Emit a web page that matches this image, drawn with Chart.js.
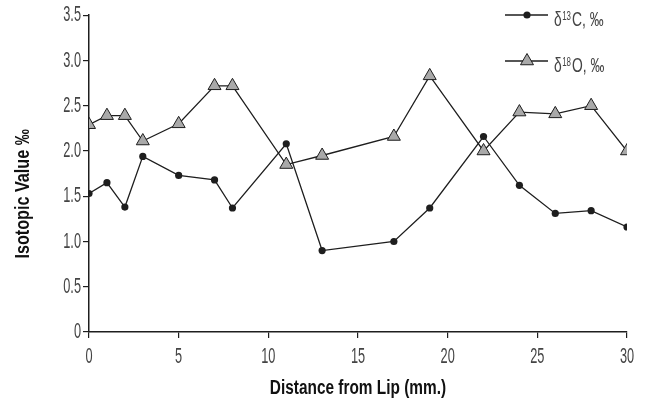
<!DOCTYPE html>
<html>
<head>
<meta charset="utf-8">
<script src="https://cdn.jsdelivr.net/npm/chart.js@4.4.1/dist/chart.umd.min.js"></script>
<style>
    html, body { margin: 0; padding: 0; background: #fff; }
    #wrap { width: 646px; height: 408px; }
</style>
</head>
<body>
<div id="wrap"><canvas id="myChart"></canvas></div>
<script>
// Values
const distance = [0, 1, 2, 3, 5, 7, 8, 11, 13, 17, 19, 22, 24, 26, 28, 30];
const carbon13 = [1.53, 1.65, 1.38, 1.94, 1.73, 1.68, 1.37, 2.08, 0.90, 1.00, 1.37, 2.16, 1.62, 1.31, 1.34, 1.16];
const oxygen18 = [2.29, 2.39, 2.39, 2.11, 2.30, 2.72, 2.72, 1.85, 1.95, 2.16, 2.83, 2.00, 2.43, 2.41, 2.50, 2.00];
const xTicks = [0, 5, 10, 15, 20, 25, 30];
const yTicks = [0, 0.5, 1.0, 1.5, 2.0, 2.5, 3.0, 3.5];

const FONT = "'Liberation Sans', Arial, sans-serif";
const TEXT = "#444";
const INK = "#1e1e1e";

// The figure uses a very narrow typeface; squeeze text horizontally
const NARROW = 0.58;
const NARROW_BOLD = 0.77;
const NARROW_LEGEND = 0.66;

function points(ys) {
    return distance.map((x, i) => ({ x: x, y: ys[i] }));
}

const canvas = document.getElementById("myChart");
const ctx = canvas.getContext("2d");
const plainFillText = ctx.fillText.bind(ctx);
function squeezedText(c, text, x, y, k) {
    c.save();
    c.translate(x, y);
    c.scale(k, 1);
    plainFillText(text, 0, 0);
    c.restore();
}
ctx.fillText = function (text, x, y) {
    squeezedText(this, text, x, y, /bold/.test(this.font) ? NARROW_BOLD : NARROW);
};

// Legend: line with marker, label with superscript mass number
const legendEntries = [
    { mass: "13", elem: "C", marker: "circle", y: 15 },
    { mass: "18", elem: "O", marker: "triangle", y: 61 }
];

const sideLegend = {
    id: "sideLegend",
    afterDraw(chart) {
        const c = chart.ctx;
        c.save();
        legendEntries.forEach(e => {
            c.strokeStyle = INK;
            c.lineWidth = 1.3;
            c.beginPath();
            c.moveTo(505, e.y);
            c.lineTo(548, e.y);
            c.stroke();

            c.beginPath();
            if (e.marker === "circle") {
                c.fillStyle = INK;
                c.arc(527, e.y, 3.6, 0, Math.PI * 2);
                c.fill();
            } else {
                const r = 7.5;
                c.fillStyle = "#a9a9a9";
                c.moveTo(527, e.y - r);
                c.lineTo(527 + r * 0.866, e.y + r / 2);
                c.lineTo(527 - r * 0.866, e.y + r / 2);
                c.closePath();
                c.fill();
                c.lineWidth = 1;
                c.stroke();
            }

            const base = e.y + 11;
            const k = NARROW_LEGEND;
            let x = 554;
            c.fillStyle = TEXT;
            c.textAlign = "left";
            c.textBaseline = "alphabetic";
            c.font = "21px " + FONT;
            squeezedText(c, "\u03b4", x, base, k);
            x += c.measureText("\u03b4").width * k + 0.5;
            c.font = "12px " + FONT;
            squeezedText(c, e.mass, x, base - 6, k);
            x += c.measureText(e.mass).width * k + 1;
            c.font = "21px " + FONT;
            squeezedText(c, e.elem + ", \u2030", x, base, k);
        });
        c.restore();
    }
};

new Chart(ctx, {
    type: "line",
    data: {
        datasets: [
            {
                label: "\u03b4\u00b9\u00b3C, \u2030",
                data: points(carbon13),
                borderColor: INK,
                backgroundColor: INK,
                borderWidth: 1.3,
                pointStyle: "circle",
                pointRadius: 3.6,
                pointBorderWidth: 0,
                tension: 0
            },
            {
                label: "\u03b4\u00b9\u2078O, \u2030",
                data: points(oxygen18),
                borderColor: INK,
                backgroundColor: "#a9a9a9",
                pointBorderColor: INK,
                borderWidth: 1.3,
                pointStyle: "triangle",
                pointRadius: 7.5,
                pointBorderWidth: 1,
                tension: 0
            }
        ]
    },
    options: {
        responsive: true,
        maintainAspectRatio: false,
        animation: false,
        layout: { padding: { left: 0, right: 19, top: 15, bottom: 0 } },
        plugins: {
            legend: { display: false },
            tooltip: { enabled: false }
        },
        scales: {
            x: {
                type: "linear",
                min: 0,
                max: 30,
                afterBuildTicks: s => { s.ticks = xTicks.map(v => ({ value: v })); },
                afterFit: s => { s.height = 76; },
                grid: { drawOnChartArea: false, drawTicks: true, tickLength: 6, color: INK, lineWidth: 1.2 },
                border: { display: true, color: INK, width: 1.5 },
                ticks: { color: TEXT, padding: 6, font: { family: FONT, size: 22 } },
                title: {
                    display: true,
                    text: "Distance from Lip (mm.)",
                    color: "#111",
                    font: { family: FONT, size: 20, weight: "bold" },
                    padding: { top: 0, bottom: 8 }
                }
            },
            y: {
                min: 0,
                max: 3.5,
                afterBuildTicks: s => { s.ticks = yTicks.map(v => ({ value: v })); },
                afterFit: s => { s.width = 89; },
                grid: { drawOnChartArea: false, drawTicks: true, tickLength: 6, color: INK, lineWidth: 1.2 },
                border: { display: true, color: INK, width: 1.5 },
                ticks: {
                    color: TEXT,
                    padding: 2,
                    font: { family: FONT, size: 22 },
                    callback: v => v === 0 ? "0" : v.toFixed(1)
                },
                title: {
                    display: true,
                    // trailing spaces push the rotated title down, as in the figure
                    text: "Isotopic Value \u2030\u2003\u2003\u2002",
                    color: "#111",
                    font: { family: FONT, size: 21, weight: "bold" },
                    padding: { top: 11, bottom: 0 }
                }
            }
        }
    },
    plugins: [sideLegend]
});
</script>
</body>
</html>
